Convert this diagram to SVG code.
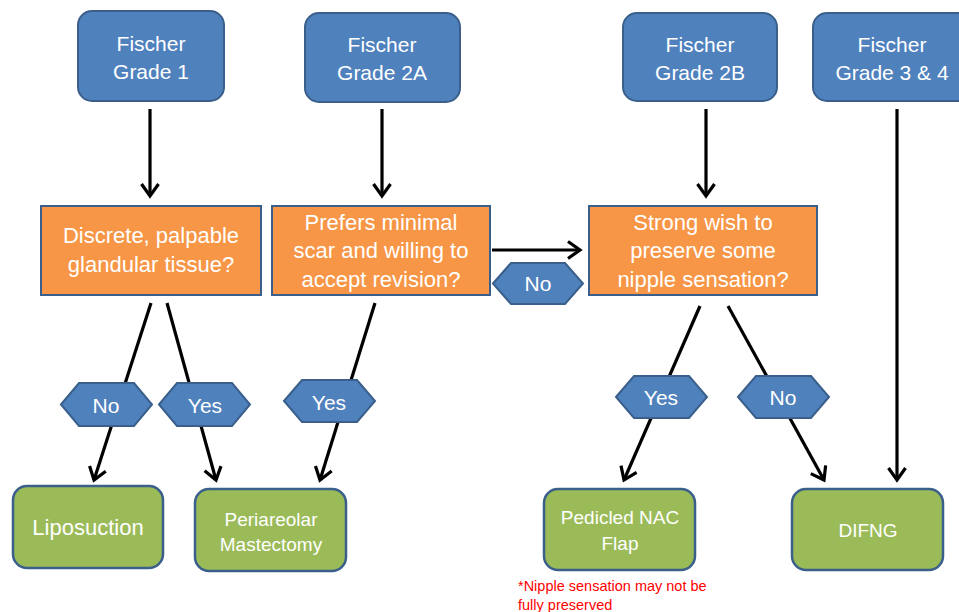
<svg xmlns="http://www.w3.org/2000/svg" width="959" height="612" viewBox="0 0 959 612">
<style>
  .blue{fill:#4F81BD;stroke:#3A5F8B;stroke-width:2}
  .orange{fill:#F79646;stroke:#3A5F8B;stroke-width:2}
  .green{fill:#9BBB59;stroke:#3A5F8B;stroke-width:2.5}
  .hex{fill:#4F81BD;stroke:#3A5F8B;stroke-width:2}
  text{font-family:"Liberation Sans","Open Sans",Arial,sans-serif;fill:#fff;text-anchor:middle}
  .t22{font-size:22px}
  .t21{font-size:21px}
  .t19{font-size:19px}
  .note{font-size:14.5px;fill:#FF0000;text-anchor:start}
  .conn line{stroke:#000;stroke-width:3.2;marker-end:url(#ah)}
</style>
<defs>
  <marker id="ah" markerWidth="20" markerHeight="20" refX="16" refY="10" orient="auto" markerUnits="userSpaceOnUse">
    <path d="M4,1.5 L16,10 L4,18.5" fill="none" stroke="#000" stroke-width="3.2"/>
  </marker>
</defs>
<rect width="959" height="612" fill="#fff"/>

<g id="connectors" class="conn">
  <line x1="150" y1="109" x2="150" y2="196"/>
  <line x1="382" y1="109" x2="382" y2="196"/>
  <line x1="706" y1="109" x2="706" y2="196"/>
  <line x1="897" y1="109" x2="897" y2="480"/>
  <line x1="492" y1="250" x2="580" y2="250"/>
  <line x1="151" y1="303" x2="94" y2="480"/>
  <line x1="167" y1="303" x2="216" y2="480"/>
  <line x1="375" y1="303" x2="320" y2="480"/>
  <line x1="700" y1="306" x2="624" y2="480"/>
  <line x1="728" y1="306" x2="824" y2="480"/>
</g>

<g id="grade1">
  <rect class="blue" x="78" y="11" width="146" height="90" rx="14"/>
  <text class="t21" x="151" y="51">Fischer</text>
  <text class="t21" x="151" y="79">Grade 1</text>
</g>
<g id="grade2a">
  <rect class="blue" x="305" y="13" width="155" height="89" rx="14"/>
  <text class="t21" x="382" y="52">Fischer</text>
  <text class="t21" x="382" y="80">Grade 2A</text>
</g>
<g id="grade2b">
  <rect class="blue" x="623" y="13" width="154" height="88" rx="14"/>
  <text class="t21" x="700" y="52">Fischer</text>
  <text class="t21" x="700" y="80">Grade 2B</text>
</g>
<g id="grade34">
  <rect class="blue" x="813" y="13" width="158" height="88" rx="14"/>
  <text class="t21" x="892" y="52">Fischer</text>
  <text class="t21" x="892" y="80">Grade 3 &amp; 4</text>
</g>

<g id="q1">
  <rect class="orange" x="41" y="206" width="220" height="89"/>
  <text class="t22" x="151" y="243">Discrete, palpable</text>
  <text class="t22" x="151" y="272">glandular tissue?</text>
</g>
<g id="q2">
  <rect class="orange" x="272" y="206" width="218" height="89"/>
  <text class="t22" x="381" y="230">Prefers minimal</text>
  <text class="t22" x="381" y="258">scar and willing to</text>
  <text class="t22" x="381" y="287">accept revision?</text>
</g>
<g id="q3">
  <rect class="orange" x="589" y="206" width="228" height="89"/>
  <text class="t22" x="703" y="230">Strong wish to</text>
  <text class="t22" x="703" y="258">preserve some</text>
  <text class="t22" x="703" y="287">nipple sensation?</text>
</g>

<g id="label-no-h">
  <polygon class="hex" points="493,283.5 511,263 565,263 583,283.5 565,304 511,304"/>
  <text class="t21" x="538" y="291">No</text>
</g>
<g id="label-no-1">
  <polygon class="hex" points="61,404.5 79,383 134,383 152,404.5 134,426 79,426"/>
  <text class="t21" x="106" y="413">No</text>
</g>
<g id="label-yes-1">
  <polygon class="hex" points="159,404.5 177,383 232,383 250,404.5 232,426 177,426"/>
  <text class="t21" x="205" y="413">Yes</text>
</g>
<g id="label-yes-2">
  <polygon class="hex" points="284,401 302,380 357,380 375,401 357,422 302,422"/>
  <text class="t21" x="329" y="410">Yes</text>
</g>
<g id="label-yes-3">
  <polygon class="hex" points="616,397 634,376 689,376 707,397 689,418 634,418"/>
  <text class="t21" x="661" y="405">Yes</text>
</g>
<g id="label-no-3">
  <polygon class="hex" points="738,397 756,376 811,376 829,397 811,418 756,418"/>
  <text class="t21" x="783" y="405">No</text>
</g>

<g id="liposuction">
  <rect class="green" x="13" y="486" width="150" height="82" rx="14"/>
  <text class="t22" x="88" y="535">Liposuction</text>
</g>
<g id="periareolar">
  <rect class="green" x="195" y="489" width="151" height="82" rx="14"/>
  <text class="t19" x="271" y="526">Periareolar</text>
  <text class="t19" x="271" y="551">Mastectomy</text>
</g>
<g id="pedicled">
  <rect class="green" x="544" y="489" width="151" height="81" rx="14"/>
  <text class="t19" x="620" y="524">Pedicled NAC</text>
  <text class="t19" x="620" y="550">Flap</text>
</g>
<g id="difng">
  <rect class="green" x="792" y="489" width="151" height="81" rx="14"/>
  <text class="t19" x="868" y="537">DIFNG</text>
</g>

<g id="note">
  <text class="note" x="518" y="591">*Nipple sensation may not be</text>
  <text class="note" x="518" y="610">fully preserved</text>
</g>
</svg>
